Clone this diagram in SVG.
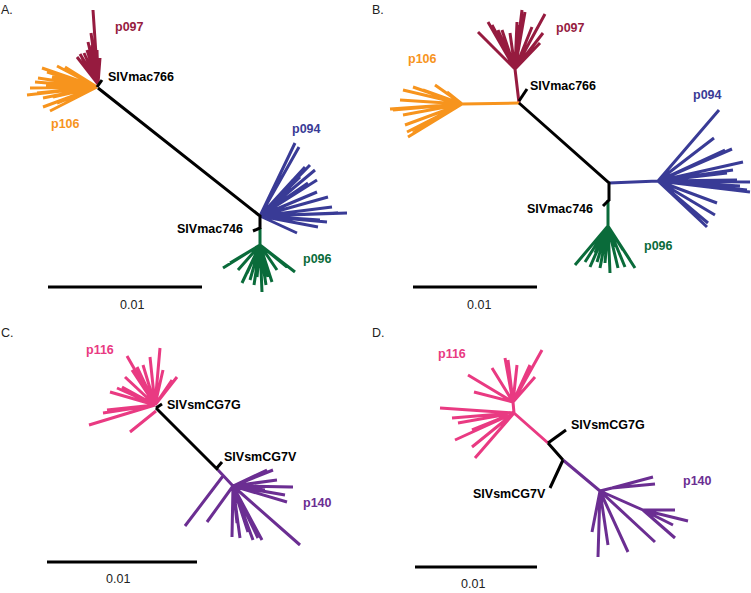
<svg xmlns="http://www.w3.org/2000/svg" width="751" height="593" viewBox="0 0 751 593">
<style>
text{font-family:"Liberation Sans",Arial,sans-serif;font-size:12.5px}
.lb{font-weight:bold}
.pl{font-size:12.5px;fill:#222}
.br{fill:none;stroke-width:3}
.k{stroke:#000}.mr{stroke:#961B3F}.or{stroke:#F7941D}.bl{stroke:#393B96}.gr{stroke:#0A6B3A}.pk{stroke:#E93A82}.pu{stroke:#6B2E92}
.tk{fill:#000}.tmr{fill:#961B3F}.tor{fill:#F7941D}.tbl{fill:#393B96}.tgr{fill:#0A6B3A}.tpk{fill:#E93A82}.tpu{fill:#6B2E92}
.sb{stroke:#000;stroke-width:3}
</style>
<rect width="751" height="593" fill="#fff"/>

<!-- Panel A -->
<g id="panelA">
<text class="pl" x="1" y="14">A.</text>
<g id="A-p097">
<path class="br mr" d="M98,84L93,10M98,84L91,33M98,84L88,42M98,84L77,57M98,84L80,54M98,84L84,53M98,84L87,50M98,84L92,45M98,84L95,44M98,84L97,50M98,84L100,58M98,84L94,60M98,84L90,47M98,84L82,58"/>
<text class="lb tmr" x="115" y="31">p097</text>
</g>
<g id="A-p106">
<path class="br or" d="M97,87L42,68M97,87L47,72M97,87L57,66M97,87L65,67M97,87L68,70M97,87L38,78M97,87L30,88M97,87L27,95M97,87L37,93M97,87L43,98M97,87L53,97M97,87L63,92M97,87L50,111M97,87L43,107M97,87L57,103M97,87L35,82M97,87L46,85M97,87L52,77"/>
<text class="lb tor" x="51" y="128">p106</text>
</g>
<g id="A-p094">
<path class="br bl" d="M260,216L295,143M260,216L299,147M260,216L305,167M260,216L310,165M260,216L293,180M260,216L300,177M260,216L308,183M260,216L317,180M260,216L317,192M260,216L328,197M260,216L338,213M260,216L347,213M260,216L327,222M260,216L320,220M260,216L318,227M260,216L297,233M260,216L290,187M260,216L315,170M260,216L332,207"/>
<text class="lb tbl" x="292" y="133">p094</text>
</g>
<g id="A-p096">
<path class="br gr" d="M260,228L260,245M260,245L223,268M260,245L230,263M260,245L242,283M260,245L247,273M260,245L250,280M260,245L257,277M260,245L262,292M260,245L268,277M260,245L272,282M260,245L277,270M260,245L287,267M260,245L295,272M260,245L254,285M260,245L238,270M260,245L266,285"/>
<text class="lb tgr" x="303" y="263">p096</text>
</g>
<g id="A-SIVmac766">
<path class="br k" d="M97,87L102,80"/>
<text class="lb tk" x="108" y="81">SIVmac766</text>
</g>
<g id="A-SIVmac746">
<path class="br k" d="M98,88L260,216L260,229M260,228L253,231"/>
<text class="lb tk" x="177" y="233">SIVmac746</text>
</g>
<line class="sb" x1="48" y1="287" x2="202" y2="287"/>
<text class="pl" x="120" y="309">0.01</text>
</g>

<!-- Panel B -->
<g id="panelB">
<text class="pl" x="372" y="14">B.</text>
<g id="B-p097">
<path class="br mr" d="M519,103L515,69M515,69L478,32M515,69L488,22M515,69L492,25M515,69L502,30M515,69L510,33M515,69L522,10M515,69L525,12M515,69L517,22M515,69L518,25M515,69L532,27M515,69L545,14M515,69L543,33M515,69L540,43M515,69L502,42M515,69L498,30"/>
<text class="lb tmr" x="556" y="32">p097</text>
</g>
<g id="B-p106">
<path class="br or" d="M519,103L462,104M462,104L390,109M462,104L400,100M462,104L403,90M462,104L413,87M462,104L423,90M462,104L435,85M462,104L447,92M462,104L405,125M462,104L408,137M462,104L413,133M462,104L423,127M462,104L433,120M462,104L443,115M462,104L393,110M462,104L403,115M462,104L412,130M462,104L407,132"/>
<text class="lb tor" x="408" y="63">p106</text>
</g>
<g id="B-p094">
<path class="br bl" d="M609,183L658,181M658,181L719,110M658,181L714,138M658,181L725,150M658,181L732,149M658,181L743,162M658,181L733,170M658,181L750,182M658,181L747,190M658,181L750,192M658,181L727,173M658,181L737,180M658,181L717,203M658,181L715,215M658,181L708,223M658,181L707,227M658,181L740,186"/>
<text class="lb tbl" x="693" y="99">p094</text>
</g>
<g id="B-p096">
<path class="br gr" d="M608,200L608,226M608,226L575,265M608,226L585,262M608,226L595,253M608,226L597,262M608,226L605,263M608,226L610,273M608,226L618,268M608,226L625,267M608,226L630,260M608,226L635,268M608,226L623,250M608,226L615,247M608,226L590,267M608,226L600,268"/>
<text class="lb tgr" x="644" y="250">p096</text>
</g>
<g id="B-SIVmac766">
<path class="br k" d="M519,101L527,89"/>
<text class="lb tk" x="530" y="90">SIVmac766</text>
</g>
<g id="B-SIVmac746">
<path class="br k" d="M519,103L609,183L609,201M609,200L603,206"/>
<text class="lb tk" x="527" y="213">SIVmac746</text>
</g>
<line class="sb" x1="413" y1="287" x2="537" y2="287"/>
<text class="pl" x="467" y="309">0.01</text>
</g>

<!-- Panel C -->
<g id="panelC">
<text class="pl" x="1" y="337">C.</text>
<g id="C-p116">
<path class="br pk" d="M155,405L89,425M155,405L103,413M155,405L107,410M155,405L110,392M155,405L117,388M155,405L122,387M155,405L127,356M155,405L132,370M155,405L137,367M155,405L143,365M155,405L150,357M155,405L160,348M155,405L163,370M155,405L177,377M155,405L172,380M155,405L125,377M155,405L110,410M156,411L130,432"/>
<text class="lb tpk" x="86" y="354">p116</text>
</g>
<g id="C-p140">
<path class="br pu" d="M218,470L233,486M223,476L185,526M233,486L207,522M233,486L232,537M233,486L240,538M233,486L248,532M233,486L253,540M233,486L258,538M233,486L262,540M233,486L300,545M233,486L290,487M233,486L293,487M233,486L285,495M233,486L287,502M233,486L273,470M233,486L267,470M233,486L277,480M233,486L265,490M233,486L237,523"/>
<text class="lb tpu" x="303" y="507">p140</text>
</g>
<g id="C-SIVsmCG7G">
<path class="br k" d="M156,408L162,404"/>
<text class="lb tk" x="167" y="409">SIVsmCG7G</text>
</g>
<g id="C-SIVsmCG7V">
<path class="br k" d="M156,408L218,470M216,469L222,462"/>
<text class="lb tk" x="224" y="461">SIVsmCG7V</text>
</g>
<line class="sb" x1="47" y1="562" x2="197" y2="562"/>
<text class="pl" x="106" y="583">0.01</text>
</g>

<!-- Panel D -->
<g id="panelD">
<text class="pl" x="372" y="337">D.</text>
<g id="D-p116">
<path class="br pk" d="M548,443L514,413M514,413L513,402M513,402L468,375M513,402L474,392M513,402L492,368M513,402L505,358M513,402L508,360M513,402L517,365M513,402L530,365M513,402L535,377M513,402L542,350M514,413L440,408M514,413L452,418M514,413L458,423M514,413L455,440M514,413L472,447M514,413L475,458M514,413L472,430"/>
<text class="lb tpk" x="438" y="358">p116</text>
</g>
<g id="D-p140">
<path class="br pu" d="M563,460L600,491M600,491L612,488M612,488L653,477M612,488L655,484M600,491L643,510M643,510L675,510M643,510L688,521M643,510L673,525M643,510L675,538M600,491L655,542M600,491L628,552M600,491L598,557M600,491L592,532M600,491L608,545"/>
<text class="lb tpu" x="683" y="485">p140</text>
</g>
<g id="D-SIVsmCG7G">
<path class="br k" d="M548,443L566,430"/>
<text class="lb tk" x="571" y="429">SIVsmCG7G</text>
</g>
<g id="D-SIVsmCG7V">
<path class="br k" d="M548,443L563,460M563,460L550,488"/>
<text class="lb tk" x="473" y="498">SIVsmCG7V</text>
</g>
<line class="sb" x1="415" y1="567" x2="537" y2="567"/>
<text class="pl" x="461" y="588">0.01</text>
</g>
</svg>
